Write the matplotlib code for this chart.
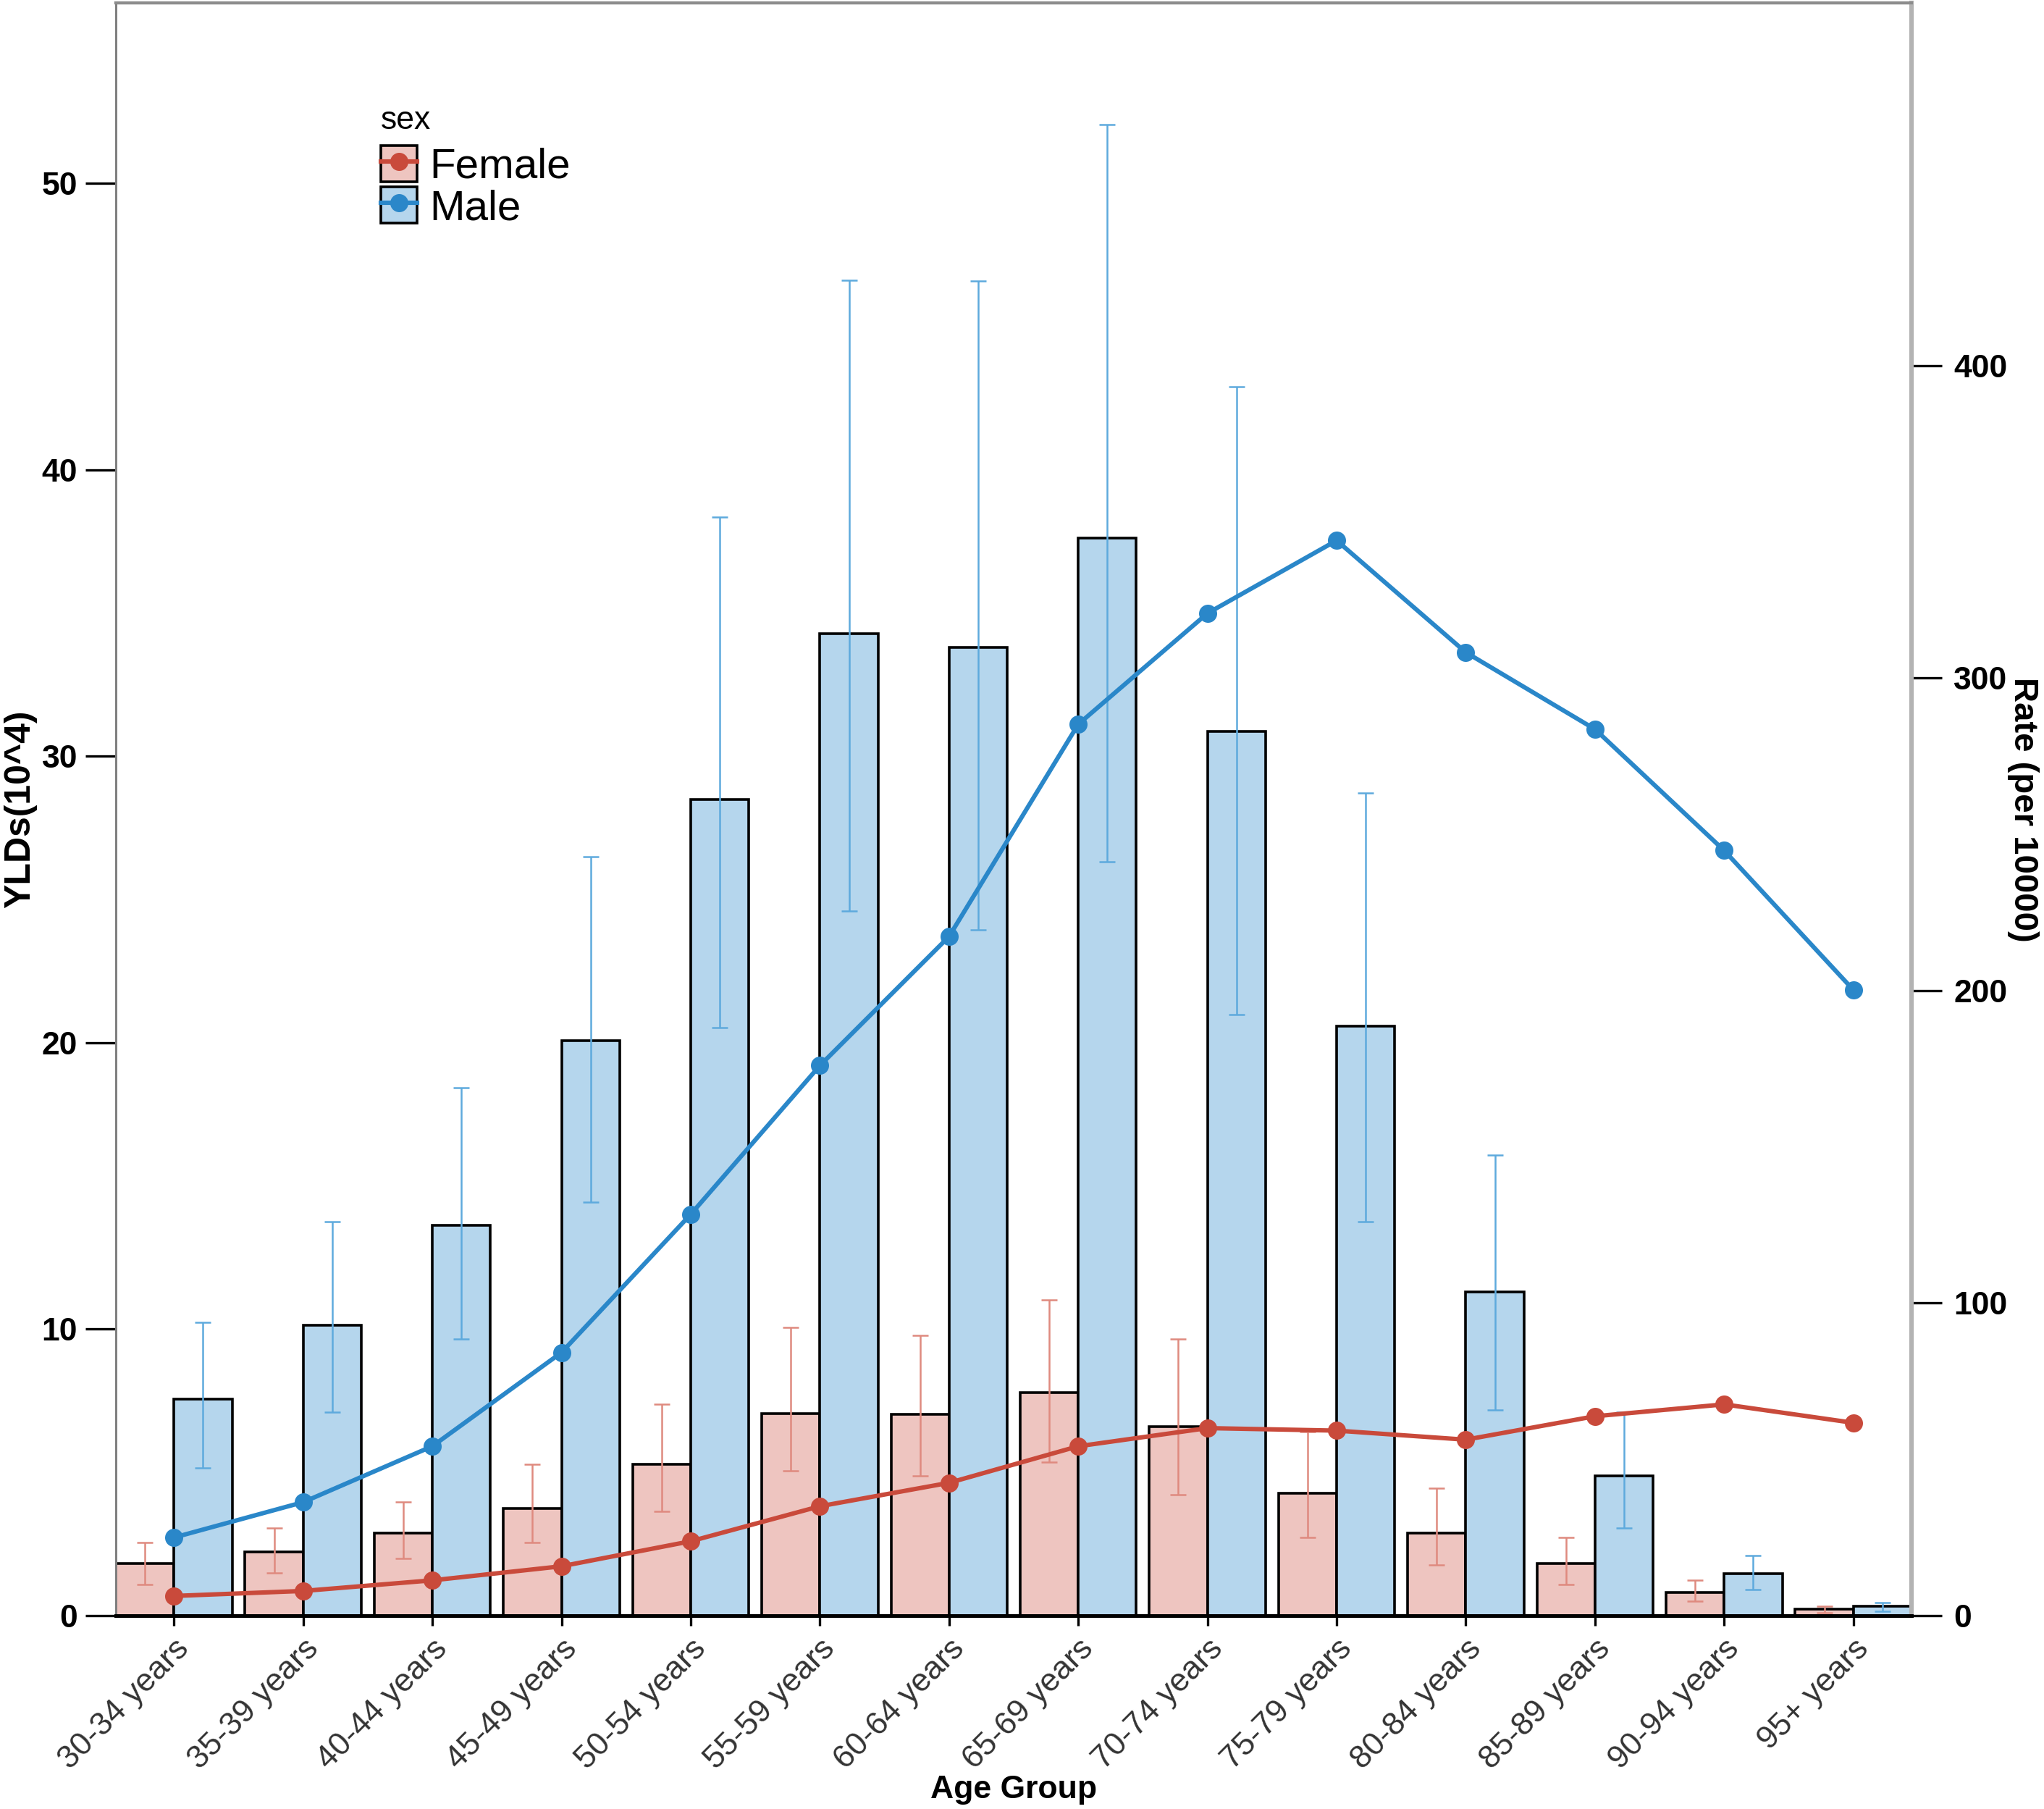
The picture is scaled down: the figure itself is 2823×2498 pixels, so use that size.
import matplotlib
matplotlib.use("Agg")
import matplotlib.pyplot as plt
import numpy as np
from matplotlib.patches import Patch
from matplotlib.lines import Line2D
from matplotlib.legend_handler import HandlerTuple

plt.rcParams['font.family'] = ['Liberation Sans', 'DejaVu Sans']

age_groups = ["30-34 years", "35-39 years", "40-44 years", "45-49 years", "50-54 years",
              "55-59 years", "60-64 years", "65-69 years", "70-74 years", "75-79 years",
              "80-84 years", "85-89 years", "90-94 years", "95+ years"]

female_ylds = [1.82, 2.23, 2.87, 3.73, 5.28, 7.06, 7.03, 7.79, 6.60, 4.28, 2.87, 1.82, 0.82, 0.23]
female_lo   = [1.09, 1.50, 2.00, 2.55, 3.64, 5.05, 4.87, 5.37, 4.23, 2.73, 1.78, 1.09, 0.50, 0.10]
female_hi   = [2.55, 3.05, 3.96, 5.28, 7.38, 10.06, 9.79, 11.02, 9.65, 6.43, 4.46, 2.73, 1.23, 0.32]

male_ylds = [7.56, 10.15, 13.62, 20.08, 28.50, 34.29, 33.79, 37.61, 30.87, 20.58, 11.29, 4.87, 1.46, 0.32]
male_lo   = [5.15, 7.10, 9.65, 14.44, 20.54, 24.59, 23.95, 26.32, 20.99, 13.75, 7.19, 3.05, 0.91, 0.14]
male_hi   = [10.25, 13.75, 18.44, 26.50, 38.34, 46.63, 46.58, 52.05, 42.90, 28.73, 16.07, 7.10, 2.09, 0.46]

female_rate = [6.3, 7.9, 11.3, 15.8, 23.8, 35.0, 42.5, 54.2, 60.0, 59.2, 56.3, 63.8, 67.6, 61.7]
male_rate   = [25.0, 36.3, 54.2, 84.2, 128.4, 176.0, 217.3, 285.2, 320.7, 344.0, 308.2, 283.6, 244.8, 200.2]

f_bar = "#eec5c0"
m_bar = "#b5d6ed"
f_line = "#c94a3b"
m_line = "#2a87c9"
f_err = "#df8a7f"
m_err = "#5eaadd"

fig = plt.figure(figsize=(2823/200, 2498/200), dpi=200)
ax = fig.add_axes([160/2823, 1-2231/2498, (2640-160)/2823, (2231-4)/2498])
ax2 = ax.twinx()

x = np.arange(len(age_groups))
w = 0.45
ax.bar(x - w/2, female_ylds, width=w, color=f_bar, edgecolor="black", linewidth=1.3, zorder=2)
ax.bar(x + w/2, male_ylds, width=w, color=m_bar, edgecolor="black", linewidth=1.3, zorder=2)

fy = np.array(female_ylds); my = np.array(male_ylds)
ax.errorbar(x - w/2, fy, yerr=[fy - np.array(female_lo), np.array(female_hi) - fy],
            fmt="none", ecolor=f_err, elinewidth=0.9, capsize=4, capthick=0.9, zorder=3)
ax.errorbar(x + w/2, my, yerr=[my - np.array(male_lo), np.array(male_hi) - my],
            fmt="none", ecolor=m_err, elinewidth=0.9, capsize=4, capthick=0.9, zorder=3)

ax2.plot(x, female_rate, color=f_line, lw=2.2, marker="o", markersize=8, zorder=4)
ax2.plot(x, male_rate, color=m_line, lw=2.2, marker="o", markersize=8, zorder=4)

ax.set_xlim(-0.45, 13.45)
ax.set_ylim(0, 56.3)
ax2.set_ylim(0, 516)

ax.set_yticks([0, 10, 20, 30, 40, 50])
ax2.set_yticks([0, 100, 200, 300, 400])
ax.set_xticks(x)
ax.set_xticklabels(age_groups, rotation=45, ha="right", rotation_mode="anchor",
                   fontsize=16, color="#333333")

ax.tick_params(axis="y", length=15, width=1.2, labelsize=16, pad=4, colors="black")
ax2.tick_params(axis="y", length=15, width=1.2, labelsize=16, pad=6, colors="black")
ax.tick_params(axis="x", length=5, width=1.2, pad=4)
for lab in ax.get_yticklabels():
    lab.set_fontweight("bold")
for lab in ax2.get_yticklabels():
    lab.set_fontweight("bold")

for a in (ax, ax2):
    a.spines["left"].set_color("#7f7f7f")
    a.spines["left"].set_linewidth(1.0)
    a.spines["top"].set_color("#8c8c8c")
    a.spines["top"].set_linewidth(1.5)
    a.spines["right"].set_color("#b3b3b3")
    a.spines["right"].set_linewidth(2.2)
    a.spines["bottom"].set_color("black")
    a.spines["bottom"].set_linewidth(1.8)

ax.set_xlabel("Age Group", fontsize=16, fontweight="bold", labelpad=0)
ax.set_ylabel("YLDs(10^4)", fontsize=18, fontweight="bold", va="center")
ax.yaxis.set_label_coords(-0.053, 0.5)
ax2.set_ylabel("Rate (per 10000)", fontsize=17, fontweight="bold", rotation=270, va="center")
ax2.yaxis.set_label_coords(1.062, 0.5)

hf = (Patch(facecolor=f_bar, edgecolor="black", linewidth=1.3),
      Line2D([], [], color=f_line, lw=2.2, marker="o", markersize=8))
hm = (Patch(facecolor=m_bar, edgecolor="black", linewidth=1.3),
      Line2D([], [], color=m_line, lw=2.2, marker="o", markersize=8))
leg = ax.legend([hf, hm], ["Female", "Male"],
                handler_map={tuple: HandlerTuple(ndivide=1)},
                loc="center left", bbox_to_anchor=(0.1476, 0.886), frameon=False,
                fontsize=21, handlelength=0.85, handleheight=0.95,
                labelspacing=0.0, handletextpad=0.3, borderpad=0, borderaxespad=0)
ax.text(0.1476, 0.927, "sex", transform=ax.transAxes, fontsize=16, ha="left", va="center")

fig.savefig("out.png", dpi=200)
